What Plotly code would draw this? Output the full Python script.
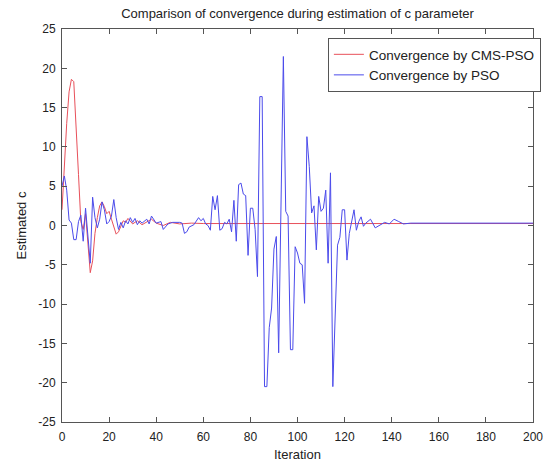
import plotly.graph_objects as go

# Estimated c per iteration (vertices of each convergence curve)
cms_iter = [0, 1, 2, 3, 4, 5, 6, 7, 8, 9, 10, 11, 12, 13, 14, 15, 16, 17, 18, 19,
            20, 21, 22, 23, 24, 25, 26, 27, 28, 30, 32, 34, 36, 38, 40, 43, 46, 50,
            55, 60, 200]
cms_val = [2.0, 8.0, 13.0, 17.0, 18.6, 18.3, 13.0, 6.5, 0.5, -0.5, 1.5, -2.5, -6.0,
           -4.5, -1.0, 1.0, 2.5, 3.0, 2.4, 1.5, 1.8, 0.8, -0.3, -1.1, -0.8, 0.0,
           0.6, 0.4, 0.9, 0.2, 0.6, 0.1, 0.5, 0.8, 0.3, 0.0, 0.4, 0.2, 0.3, 0.25,
           0.25]

pso_iter = [0, 1, 2, 3, 4, 5, 6, 7, 8, 9, 10, 11, 12, 13, 14, 15, 16, 17, 18, 19,
            20, 21, 22, 23, 24, 25, 26, 27, 28, 29, 30, 31, 32, 33, 34, 36, 37, 38,
            39, 40, 42, 43, 45, 47, 50, 51, 52, 53, 54, 56, 58, 59, 60, 61, 62, 63,
            64, 65, 66, 67, 68, 69, 70, 71, 72, 73, 74, 75, 76, 77, 78, 79, 80, 81,
            82, 83, 84, 85, 86, 87, 88, 89, 90, 91, 92, 93, 94, 95, 96, 97, 98, 99,
            100, 101, 102, 103, 104, 105, 106, 107, 108, 109, 110, 111, 112, 113,
            114, 115, 116, 117, 118, 119, 120, 121, 122, 123, 124, 125, 126, 127,
            128, 129, 131, 133, 135, 137, 139, 141, 143, 145, 148, 200]
pso_val = [5.0, 6.3, 4.5, 0.7, 0.3, -1.8, -1.8, 0.5, 1.3, -2.0, 2.2, -1.5, -4.8,
           3.6, 1.0, -0.3, 0.8, 3.0, 2.0, 0.2, 0.5, 1.2, 3.3, 1.0, -0.5, 0.4, -0.3,
           0.6, 0.2, 1.0, 0.4, 0.9, 0.1, 0.6, 0.3, 0.8, 0.2, 1.2, 0.8, 0.3, 0.5,
           -0.5, 0.2, 0.4, 0.4, 0.3, -1.0, -0.8, -0.2, 0.1, 1.0, 0.6, 0.9, 0.2,
           0.0, -0.6, 3.7, 2.0, 3.8, -0.6, -0.4, 0.4, 0.2, 0.8, -0.8, 3.2, -2.0,
           5.2, 5.4, 4.0, 3.8, -3.8, 2.2, 2.2, -0.5, -6.5, 16.4, 16.4, -20.5,
           -20.5, -13.0, -10.5, -3.0, -1.4, -16.2, 5.0, 21.5, 1.8, 1.2, -15.8,
           -15.8, -2.7, -3.5, -4.8, -5.0, -9.9, 11.3, 7.5, 1.6, 2.5, -3.1, 3.7,
           1.8, 2.2, 4.5, -4.8, 6.7, -20.5, -12.0, -2.5, -1.5, 2.0, 2.0, -4.4,
           -1.0, 0.3, 2.0, -0.6, 0.5, 1.1, -0.1, 0.3, 0.8, -0.3, 0.1, 0.4, 0.2,
           0.8, 0.5, 0.2, 0.3, 0.3]

x_ticks = [0, 20, 40, 60, 80, 100, 120, 140, 160, 180, 200]
y_ticks = [-25, -20, -15, -10, -5, 0, 5, 10, 15, 20, 25]

FONT = "Arial, Liberation Sans, sans-serif"

fig = go.Figure()
fig.add_trace(go.Scatter(x=cms_iter, y=cms_val, mode="lines",
                         name="Convergence by CMS-PSO",
                         line=dict(color="rgb(232,80,90)", width=1)))
fig.add_trace(go.Scatter(x=pso_iter, y=pso_val, mode="lines",
                         name="Convergence by PSO",
                         line=dict(color="rgb(75,75,235)", width=1)))

axis_common = dict(showline=True, linecolor="#555", linewidth=1, mirror="ticks",
                   ticks="inside", ticklen=5, tickcolor="#555", showgrid=False,
                   zeroline=False, automargin=False,
                   tickfont=dict(family=FONT, size=12, color="#222"))

fig.update_layout(
    width=553, height=465,
    margin=dict(l=62, r=18, t=29, b=43),
    paper_bgcolor="white", plot_bgcolor="white",
    font=dict(family=FONT, color="#222"),
    title=dict(text="Comparison of convergence during estimation of c parameter",
               x=0.538, xanchor="center", y=0.972, yanchor="middle",
               font=dict(family=FONT, size=13, color="#222")),
    xaxis=dict(range=[0, 200], tickvals=x_ticks, ticktext=[str(v) for v in x_ticks],
               ticklabelstandoff=4,
               title=dict(text="Iteration", standoff=6,
                          font=dict(family=FONT, size=13, color="#222")),
               **axis_common),
    yaxis=dict(range=[-25, 25], tickvals=y_ticks, ticktext=[str(v) for v in y_ticks],
               ticklabelstandoff=3,
               title=dict(text="Estimated c", standoff=8,
                          font=dict(family=FONT, size=13, color="#222")),
               **axis_common),
    legend=dict(x=0.5645, y=0.977, xanchor="left", yanchor="top",
                bgcolor="white", bordercolor="#555", borderwidth=1,
                font=dict(family=FONT, size=13.5, color="#222"),
                tracegroupgap=0, itemwidth=30),
    showlegend=True,
)

fig.write_html("out.html")
